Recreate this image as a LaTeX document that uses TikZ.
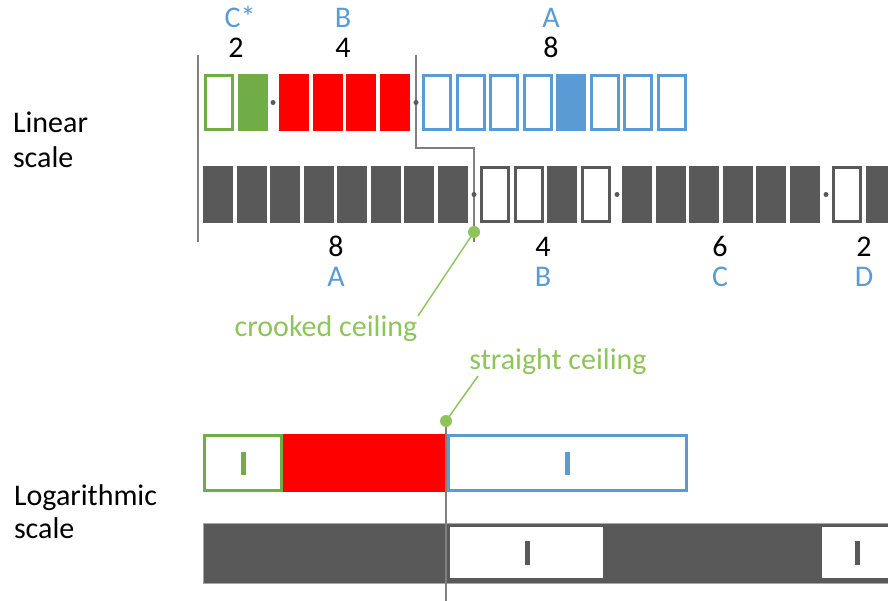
\documentclass[tikz,border=0pt]{standalone}
\usepackage{fontspec}
\setmainfont{Carlito}
\definecolor{dgray}{HTML}{595959}
\definecolor{lgray}{HTML}{7F7F7F}
\definecolor{edgegray}{HTML}{A6A6A6}
\definecolor{gbox}{HTML}{70AD47}
\definecolor{bbox}{HTML}{5B9BD5}
\definecolor{rbox}{HTML}{FF0000}
\definecolor{gtext}{RGB}{143,196,90}
\definecolor{btext}{HTML}{5B9BD5}
\begin{document}
\begin{tikzpicture}[x=1pt,y=-1pt,
  every node/.style={inner sep=0pt, outer sep=0pt},
  txt/.style={font=\fontsize{30}{36}\selectfont, anchor=base},
  cell/.style={minimum width=30pt, minimum height=57pt},
  ocell/.style={minimum width=27pt, minimum height=54pt, line width=3pt, fill=white},
  gout/.style={ocell, draw=gbox},
  gfill/.style={cell, fill=gbox},
  rfill/.style={cell, fill=rbox},
  bout/.style={ocell, draw=bbox},
  bfill/.style={cell, fill=bbox},
  kout/.style={ocell, draw=dgray},
  kfill/.style={cell, fill=dgray},
  dotnode/.style={circle, fill=dgray, minimum size=5pt},
  gdot/.style={circle, fill=gtext, minimum size=12pt},
  vline/.style={draw=lgray, line width=2pt},
  gline/.style={draw=gtext, line width=1.5pt},
  lmark/.style={minimum width=5pt, minimum height=23pt}
]
\useasboundingbox (0,0) rectangle (888,601);

% ---------- Linear scale ----------
\node[txt, anchor=base west] (lin1) at (13,133) {Linear};
\node[txt, anchor=base west] (lin2) at (13,168) {scale};

% top row
\foreach \x/\s [count=\i] in {204/gout,237.5/gfill,279/rfill,312.5/rfill,346/rfill,379.5/rfill,
  422/bout,455.5/bout,489/bout,522.5/bout,556/bfill,589.5/bout,623/bout,656.5/bout}
  \node[\s] (t\i) at (\x+15,102.5) {};

% bottom row
\foreach \x/\s [count=\i] in {203/kfill,236.5/kfill,270/kfill,303.5/kfill,337/kfill,370.5/kfill,404/kfill,437.5/kfill,
  480/kout,513.5/kout,547/kfill,580.5/kout,
  622/kfill,655.5/kfill,689/kfill,722.5/kfill,756/kfill,789.5/kfill,
  832/kout,865.5/kfill}
  \node[\s] (b\i) at (\x+15,194.5) {};

% separator lines
\coordinate (l1top) at (198,55);
\coordinate (l1bot) at (198,242);
\draw[vline] (l1top) -- (l1bot);
\coordinate (c0) at (416,55);
\coordinate (cA) at (416,148);
\coordinate (cB) at (474,148);
\coordinate (cEnd) at (474,242);
\draw[vline, line join=miter] (c0) -- (cA) -- (cB) -- (cEnd);

% dots
\node[dotnode] (d1) at (273,102.5) {};
\node[dotnode] (d2) at (416,102.5) {};
\node[dotnode] (d3) at (474,194.5) {};
\node[dotnode] (d4) at (617,194.5) {};
\node[dotnode] (d5) at (826,194.5) {};

% top labels
\node[txt, text=btext] (tlc) at (240,28) {C*};
\node[txt] (tn2) at (236,58) {2};
\node[txt, text=btext] (tlb) at (343,28) {B};
\node[txt] (tn4) at (343,58) {4};
\node[txt, text=btext] (tla) at (551,28) {A};
\node[txt] (tn8) at (551,58) {8};

% bottom labels
\node[txt] (bn8) at (336,257) {8};
\node[txt, text=btext] (bla) at (336,287) {A};
\node[txt] (bn4) at (543,257) {4};
\node[txt, text=btext] (blb) at (543,287) {B};
\node[txt] (bn6) at (720,257) {6};
\node[txt, text=btext] (blc) at (720,287) {C};
\node[txt] (bn2) at (864,257) {2};
\node[txt, text=btext] (bld) at (864,287) {D};

% crooked ceiling
\coordinate (cc) at (418,316);
\draw[gline] (cc) -- (474,232);
\node[gdot] (gd1) at (474,232) {};
\node[txt, text=gtext] (crook) at (326,337) {crooked ceiling};

% ---------- Logarithmic scale ----------
\node[txt, anchor=base west] (log1) at (14,505) {Logarithmic};
\node[txt, anchor=base west] (log2) at (14,538) {scale};

\node[minimum width=77pt, minimum height=55pt, line width=3pt, draw=gbox, fill=white] (lg) at (243,463) {};
\node[minimum width=163pt, minimum height=58pt, fill=rbox] (lr) at (364.5,463) {};
\node[minimum width=238pt, minimum height=55pt, line width=3pt, draw=bbox, fill=white] (lb) at (567.5,463) {};
\node[lmark, fill=gbox] (lgm) at (243,463.5) {};
\node[lmark, fill=bbox] (lbm) at (567,463.5) {};

\node[minimum width=692pt, minimum height=60pt, fill=dgray, draw=edgegray, line width=1pt] (gb) at (549,553) {};
\node[minimum width=153pt, minimum height=51pt, fill=white] (w1) at (526.5,552.5) {};
\node[minimum width=73pt, minimum height=51pt, fill=white] (w2) at (858.5,552.5) {};
\node[lmark, fill=dgray, minimum height=24pt] (w1m) at (527,553) {};
\node[lmark, fill=dgray, minimum height=24pt] (w2m) at (857,553) {};

% straight ceiling
\coordinate (sEnd) at (446,601);
\coordinate (sc) at (478,376);
\draw[vline] (446,421) -- (sEnd);
\draw[gline] (sc) -- (446,421);
\node[gdot] (gd2) at (446,421) {};
\node[txt, text=gtext] (straight) at (558,369) {straight ceiling};
\end{tikzpicture}
\end{document}
